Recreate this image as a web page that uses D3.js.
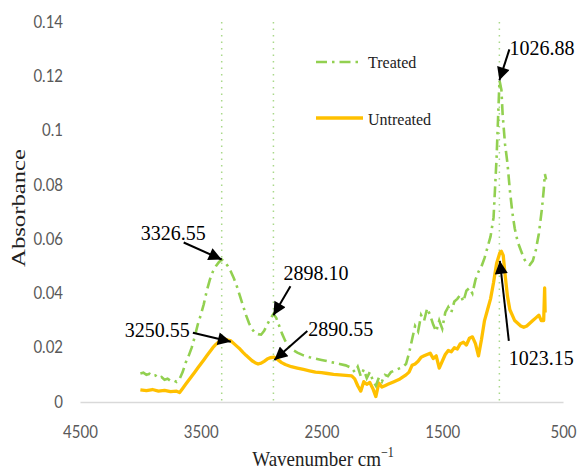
<!DOCTYPE html>
<html>
<head>
<meta charset="utf-8">
<style>
  body { margin: 0; background: #fff; }
  .tick text { font-family: Lato, "Open Sans", sans-serif; font-size: 15px; fill: #595959; }
  .note { font-family: "Liberation Serif", "Times New Roman", serif; font-size: 20px; fill: #000; }
  .legendText { font-family: "Liberation Serif", "Times New Roman", serif; font-size: 16px; fill: #222; }
  .axisTitle { font-family: "Liberation Serif", "Times New Roman", serif; font-size: 19px; fill: #222; }
</style>
</head>
<body>
<svg width="580" height="473"></svg>
<script src="https://d3js.org/d3.v7.min.js"></script>
<script>

// wavenumber (cm-1) and absorbance
var treatedWn = [4000,3975,3950,3925,3900,3875,3850,3825,3800,3775,3750,3725,3700,3675,3650,3625,3600,3575,3550,3525,
  3500,3475,3450,3425,3400,3375,3350,3326,3300,3275,3250,3225,3200,3175,3150,3125,3100,3075,3050,3025,
  3000,2975,2950,2925,2898,2875,2850,2825,2800,2775,2750,2700,2650,2600,2550,2500,2450,2400,2350,2300,
  2250,2225,2200,2175,2150,2125,2100,2075,2050,2025,2000,1975,1950,1925,1900,1875,1850,1825,1800,1775,
  1750,1725,1700,1675,1650,1625,1600,1575,1550,1525,1500,1475,1450,1425,1400,1375,1350,1325,1300,1275,
  1250,1225,1200,1175,1150,1125,1100,1075,1050,1026,1010,1000,980,960,940,920,900,875,850,825,
  800,775,750,725,700,675,660,650,640];
var treatedAbs = [0.0105,0.0108,0.0100,0.0104,0.0095,0.0098,0.0088,0.0092,0.0082,0.0086,0.0078,0.0080,0.0074,0.0085,0.0110,0.0145,0.0170,0.0200,0.0240,0.0285,
  0.0320,0.0360,0.0410,0.0450,0.0480,0.0500,0.0515,0.0525,0.0515,0.0500,0.0480,0.0455,0.0425,0.0390,0.0355,0.0320,0.0290,0.0268,0.0255,0.0250,
  0.0248,0.0262,0.0285,0.0305,0.0325,0.0310,0.0280,0.0250,0.0225,0.0208,0.0195,0.0182,0.0172,0.0165,0.0160,0.0155,0.0150,0.0145,0.0140,0.0135,
  0.0125,0.0110,0.0130,0.0095,0.0120,0.0088,0.0110,0.0080,0.0060,0.0090,0.0075,0.0100,0.0095,0.0110,0.0115,0.0120,0.0125,0.0130,0.0140,0.0180,
  0.0230,0.0280,0.0260,0.0320,0.0300,0.0345,0.0320,0.0285,0.0260,0.0300,0.0270,0.0330,0.0350,0.0330,0.0370,0.0380,0.0395,0.0370,0.0410,0.0420,
  0.0400,0.0450,0.0480,0.0500,0.0530,0.0570,0.0610,0.0680,0.0900,0.1185,0.1150,0.1060,0.0950,0.0880,0.0780,0.0700,0.0640,0.0590,0.0560,0.0530,
  0.0510,0.0505,0.0520,0.0560,0.0620,0.0710,0.0780,0.0840,0.0820];

var untreatedWn = [4000,3950,3900,3850,3800,3750,3700,3675,3650,3625,3600,3575,3550,3525,3500,3475,3450,3425,3400,3375,
  3350,3325,3300,3275,3250,3225,3200,3175,3150,3125,3100,3075,3050,3025,3000,2975,2950,2925,2890,2860,
  2830,2800,2750,2700,2650,2600,2550,2500,2450,2400,2350,2300,2250,2225,2200,2175,2150,2125,2100,2075,
  2050,2025,2000,1975,1950,1925,1900,1850,1800,1775,1750,1725,1700,1675,1650,1625,1600,1575,1550,1525,
  1500,1475,1450,1425,1400,1375,1350,1325,1300,1275,1250,1225,1200,1175,1150,1125,1100,1075,1050,1023,
  1010,995,980,960,940,920,900,875,850,825,800,775,750,725,700,680,660,652,648];
var untreatedAbs = [0.0045,0.0042,0.0046,0.0040,0.0043,0.0038,0.0040,0.0035,0.0050,0.0065,0.0080,0.0095,0.0110,0.0125,0.0140,0.0155,0.0170,0.0185,0.0200,0.0212,
  0.0222,0.0228,0.0232,0.0228,0.0225,0.0215,0.0205,0.0195,0.0183,0.0172,0.0162,0.0152,0.0145,0.0140,0.0143,0.0150,0.0158,0.0163,0.0165,0.0155,
  0.0145,0.0138,0.0130,0.0125,0.0120,0.0115,0.0110,0.0108,0.0105,0.0102,0.0100,0.0098,0.0096,0.0085,0.0060,0.0040,0.0075,0.0065,0.0072,0.0050,
  0.0020,0.0070,0.0055,0.0060,0.0065,0.0070,0.0075,0.0085,0.0100,0.0110,0.0135,0.0140,0.0150,0.0165,0.0170,0.0175,0.0180,0.0160,0.0170,0.0125,
  0.0150,0.0175,0.0190,0.0185,0.0200,0.0195,0.0215,0.0220,0.0210,0.0235,0.0240,0.0215,0.0170,0.0230,0.0300,0.0340,0.0380,0.0440,0.0510,0.0550,
  0.0555,0.0540,0.0470,0.0390,0.0340,0.0320,0.0300,0.0290,0.0280,0.0275,0.0280,0.0290,0.0300,0.0310,0.0320,0.0300,0.0300,0.0420,0.0330];

var xTicks = [4500, 3500, 2500, 1500, 500];
var yTicks = [0, 0.02, 0.04, 0.06, 0.08, 0.1, 0.12, 0.14];

// dotted guides and the marked peaks (label / arrow-start offsets in px)
var peakLines = [3326.55, 2898.10, 1026.88];
var notes = [
  {wn: 3326.55, abs: 0.0525, label: "3326.55", tx: -81, ty: -20, sx: -38, sy: -17},
  {wn: 2898.10, abs: 0.0320, label: "2898.10", tx: 10, ty: -35, sx: 17, sy: -29},
  {wn: 2890.55, abs: 0.0155, label: "2890.55", tx: 34, ty: -24, sx: 33, sy: -29},
  {wn: 3250.55, abs: 0.0222, label: "3250.55", tx: -106, ty: -5, sx: -38, sy: -9},
  {wn: 1026.88, abs: 0.1185, label: "1026.88", tx: 10, ty: -25, sx: 10, sy: -31},
  {wn: 1023.15, abs: 0.0520, label: "1023.15", tx: 9, ty: 104, sx: 9, sy: 80}
];

var svg = d3.select("svg"),
    margin = {top: 22, right: 17, bottom: 71, left: 80},
    width = +svg.attr("width") - margin.left - margin.right,
    height = +svg.attr("height") - margin.top - margin.bottom,
    g = svg.append("g").attr("transform", "translate(" + margin.left + "," + margin.top + ")");

var x = d3.scaleLinear().domain([4500, 500]).range([0, width]);
var y = d3.scaleLinear().domain([0, 0.14]).range([height, 0]);

// x axis
var xAxis = g.append("g")
    .attr("transform", "translate(0," + height + ")")
    .call(d3.axisBottom(x).tickValues(xTicks).tickSize(0).tickPadding(22).tickFormat(d3.format("d")));
xAxis.select(".domain").attr("stroke", "#d9d9d9").attr("stroke-width", 1.3);

// y axis (labels only)
var yAxis = g.append("g")
    .call(d3.axisLeft(y).tickValues(yTicks).tickSize(0).tickPadding(17)
      .tickFormat(function(d) { return d === 0 ? "0" : String(+d.toFixed(2)); }));
yAxis.select(".domain").remove();
g.selectAll(".tick text").attr("transform", "scale(1,1.1)");

// dotted guide lines at peaks
g.selectAll(".guide").data(peakLines).enter().append("line")
    .attr("class", "guide")
    .attr("x1", function(d) { return x(d); })
    .attr("x2", function(d) { return x(d); })
    .attr("y1", y(0.14))
    .attr("y2", y(0))
    .attr("stroke", "#a9d88a")
    .attr("stroke-width", 1.5)
    .attr("stroke-dasharray", "1.5,5");

var line = d3.line()
    .x(function(d) { return x(d[0]); })
    .y(function(d) { return y(d[1]); });

g.append("path")
    .datum(d3.zip(untreatedWn, untreatedAbs))
    .attr("fill", "none")
    .attr("stroke", "#ffc000")
    .attr("stroke-width", 3.3)
    .attr("stroke-linejoin", "round")
    .attr("d", line);

g.append("path")
    .datum(d3.zip(treatedWn, treatedAbs))
    .attr("fill", "none")
    .attr("stroke", "#92d050")
    .attr("stroke-width", 2.6)
    .attr("stroke-dasharray", "11,5,2.5,5")
    .attr("d", line);

// arrows
svg.append("defs").append("marker")
    .attr("id", "head")
    .attr("viewBox", "0 0 10 10")
    .attr("refX", 10).attr("refY", 5)
    .attr("markerWidth", 7.5).attr("markerHeight", 6.5)
    .attr("markerUnits", "strokeWidth")
    .attr("orient", "auto")
  .append("path")
    .attr("d", "M0,0 L10,5 L0,10 z")
    .attr("fill", "#000");

notes.forEach(function(n) {
  var px = x(n.wn), py = y(n.abs);
  g.append("line")
      .attr("x1", px + n.sx).attr("y1", py + n.sy)
      .attr("x2", px).attr("y2", py)
      .attr("stroke", "#000")
      .attr("stroke-width", 2)
      .attr("marker-end", "url(#head)");
  g.append("text")
      .attr("class", "note")
      .attr("x", px + n.tx)
      .attr("y", py + n.ty)
      .text(n.label);
});

// legend
var legend = g.append("g");
legend.append("line")
    .attr("x1", 236).attr("x2", 283).attr("y1", 40).attr("y2", 40)
    .attr("stroke", "#92d050").attr("stroke-width", 2.6)
    .attr("stroke-dasharray", "11,5,2.5,5");
legend.append("text").attr("class", "legendText")
    .attr("x", 288).attr("y", 46).text("Treated");
legend.append("line")
    .attr("x1", 236).attr("x2", 283).attr("y1", 96).attr("y2", 96)
    .attr("stroke", "#ffc000").attr("stroke-width", 3.3);
legend.append("text").attr("class", "legendText")
    .attr("x", 288).attr("y", 103).text("Untreated");

// axis titles
svg.append("text")
    .attr("class", "axisTitle")
    .attr("transform", "translate(25,208) rotate(-90) scale(1.3,1)")
    .attr("text-anchor", "middle")
    .text("Absorbance");

svg.append("text")
    .attr("class", "axisTitle")
    .attr("transform", "translate(323,466) scale(1,1.15)")
    .attr("text-anchor", "middle")
    .html("Wavenumber cm<tspan dy='-8' font-size='12'>\u22121</tspan>");

</script>
</body>
</html>
